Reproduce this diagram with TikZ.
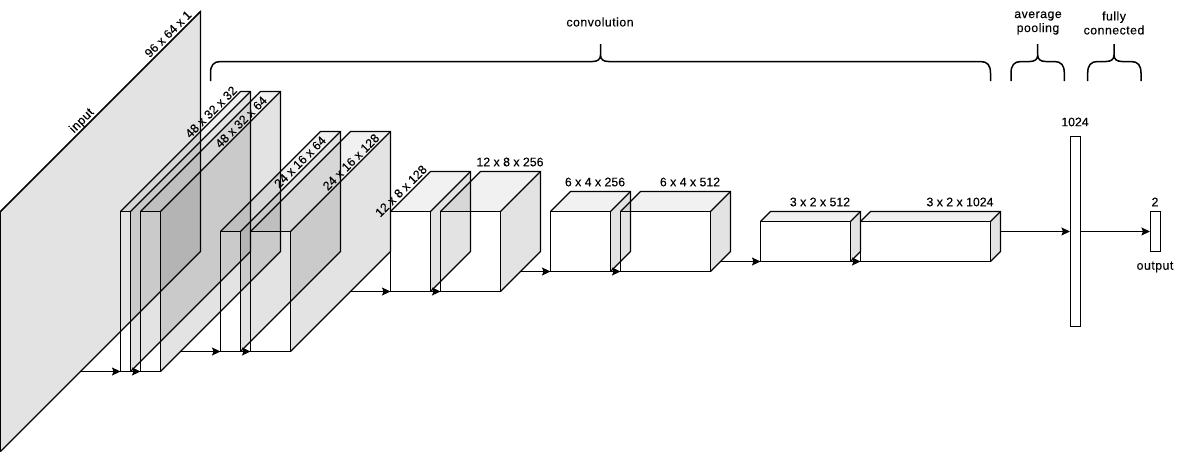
\documentclass[tikz,border=0pt]{standalone}
\usepackage{fontspec}
\setmainfont[FakeBold=0.2]{Liberation Sans}
\newfontfamily\wordfont[LetterSpace=4,FakeBold=0.2]{Liberation Sans}
\newfontfamily\numfont[FakeBold=0.2]{Liberation Sans}
\usetikzlibrary{arrows.meta}
\tikzset{
  x=1pt,y=-1pt,
  edge/.style={draw=black,line width=1.1pt,line join=miter},
  sideface/.style={fill=black,fill opacity=0.11},
  topface/.style={fill=black,fill opacity=0.055},
  conn/.style={draw=black,line width=1.1pt,-{Stealth[length=8.5pt,width=8pt,inset=1.5pt]}},
  brace/.style={draw=black,line width=1.5pt},
  lab/.style={font=\numfont\fontsize{12.3}{14}\selectfont,text=black,inner sep=0pt,align=center},
  wlab/.style={font=\wordfont\fontsize{12.3}{14}\selectfont,text=black,inner sep=0pt,align=center},
  dlab/.style={lab,rotate=45},
  bar/.style={draw=black,line width=1.1pt,fill=white,inner sep=0pt,minimum width=10pt},
}
\newcommand{\cubefill}[6]{%
  % name, x0, y0, x1, y1, depth
  \coordinate (#1-ftl) at (#2+.5,#3+.5);
  \coordinate (#1-ftr) at (#4+.5,#3+.5);
  \coordinate (#1-fbl) at (#2+.5,#5+.5);
  \coordinate (#1-fbr) at (#4+.5,#5+.5);
  \coordinate (#1-btl) at (#2+#6+.5,#3-#6+.5);
  \coordinate (#1-btr) at (#4+#6+.5,#3-#6+.5);
  \coordinate (#1-bbr) at (#4+#6+.5,#5-#6+.5);
  \path[topface] (#1-ftl) -- (#1-btl) -- (#1-btr) -- (#1-ftr) -- cycle;
  \path[sideface] (#1-ftr) -- (#1-btr) -- (#1-bbr) -- (#1-fbr) -- cycle;
}
\newcommand{\cubelines}[1]{%
  \draw[edge] (#1-ftl) rectangle (#1-fbr);
  \draw[edge] (#1-ftl) -- (#1-btl) -- (#1-btr) -- (#1-bbr) -- (#1-fbr);
  \draw[edge] (#1-ftr) -- (#1-btr);
}
\newcommand{\curly}[4]{%
  % name, left x, mid x, right x
  \coordinate (#1-l) at (#2,81);
  \coordinate (#1-m) at (#3,44);
  \coordinate (#1-r) at (#4,81);
  \draw[brace] (#1-l) -- (#2,73) .. controls (#2,65.5) and (#2+3,61.5) .. (#2+10,61.5)
     -- (#3-8,61.5) .. controls (#3-3,61.5) and (#3,59.5) .. (#3,55) -- (#1-m)
     (#3,55) .. controls (#3,59.5) and (#3+3,61.5) .. (#3+8,61.5)
     -- (#4-10,61.5) .. controls (#4-3,61.5) and (#4,65.5) .. (#4,73) -- (#1-r);
}
\begin{document}
\begin{tikzpicture}
\useasboundingbox (0,0) rectangle (1186,453);
\cubefill{c1}{0}{211}{0}{451}{200}
\cubefill{c2}{120}{211}{130}{371}{120}
\cubefill{c3}{140}{211}{160}{371}{120}
\cubefill{c4}{220}{231}{240}{351}{100}
\cubefill{c5}{250}{231}{290}{351}{100}
\cubefill{c6}{390}{211}{430}{291}{40}
\cubefill{c7}{440}{211}{500}{291}{40}
\cubefill{c8}{550}{211}{610}{271}{20}
\cubefill{c9}{620}{211}{710}{271}{20}
\cubefill{c10}{760}{221}{850}{261}{10}
\cubefill{c11}{860}{221}{990}{261}{10}
\foreach \c in {c1,c2,c3,c4,c5,c6,c7,c8,c9,c10,c11} {\cubelines{\c}}

\node[bar,minimum height=190pt] (fc) at (1075.5,231.5) {};
\node[bar,minimum height=40pt] (out) at (1155.5,231.5) {};

% exit points on the lower side edges
\coordinate (e1) at (80.5,371.5);
\coordinate (e3) at (180.5,351.5);
\coordinate (e5) at (350.5,291.5);
\coordinate (e7) at (520.5,271.5);
\coordinate (e9) at (720.5,261.5);
\coordinate (e11) at (1000.5,231.5);

\draw[conn] (e1) -- (c2-fbl);
\draw[conn] (c2-fbr) -- (c3-fbl);
\draw[conn] (e3) -- (c4-fbl);
\draw[conn] (c4-fbr) -- (c5-fbl);
\draw[conn] (e5) -- (c6-fbl);
\draw[conn] (c6-fbr) -- (c7-fbl);
\draw[conn] (e7) -- (c8-fbl);
\draw[conn] (c8-fbr) -- (c9-fbl);
\draw[conn] (e9) -- (c10-fbl);
\draw[conn] (c10-fbr) -- (c11-fbl);
\draw[conn] (e11) -- (fc.west);
\draw[conn] (fc.east) -- (out.west);

\curly{b1}{210.5}{600.5}{990.5}
\curly{b2}{1011}{1037.7}{1064.3}
\curly{b3}{1087.7}{1114}{1141}

\node[wlab,rotate=45] (l1) at (82,121) {input};
\node[dlab] (l2) at (168,34) {96 x 64 x 1};
\node[dlab] (l3) at (211,112) {48 x 32 x 32};
\node[dlab] (l4) at (241,122) {48 x 32 x 64};
\node[dlab] (l5) at (300,162) {24 x 16 x 64};
\node[dlab] (l6) at (351,162) {24 x 16 x 128};
\node[dlab] (l7) at (401,191) {12 x 8 x 128};
\node[lab] (l8) at (510,162) {12 x 8 x 256};
\node[lab] (l9) at (595,182) {6 x 4 x 256};
\node[lab] (l10) at (690,182) {6 x 4 x 512};
\node[lab] (l11) at (820,202) {3 x 2 x 512};
\node[lab] (l12) at (960,202) {3 x 2 x 1024};
\node[lab] (l13) at (1075,122) {1024};
\node[lab] (l14) at (1155,202) {2};
\node[wlab] (l15) at (1155,267) {output};
\node[wlab] (l16) at (600,22) {convolution};
\node[wlab] (l17) at (1038,23) {average\\pooling};
\node[wlab] (l18) at (1114,23) {fully\\connected};
\end{tikzpicture}
\end{document}
